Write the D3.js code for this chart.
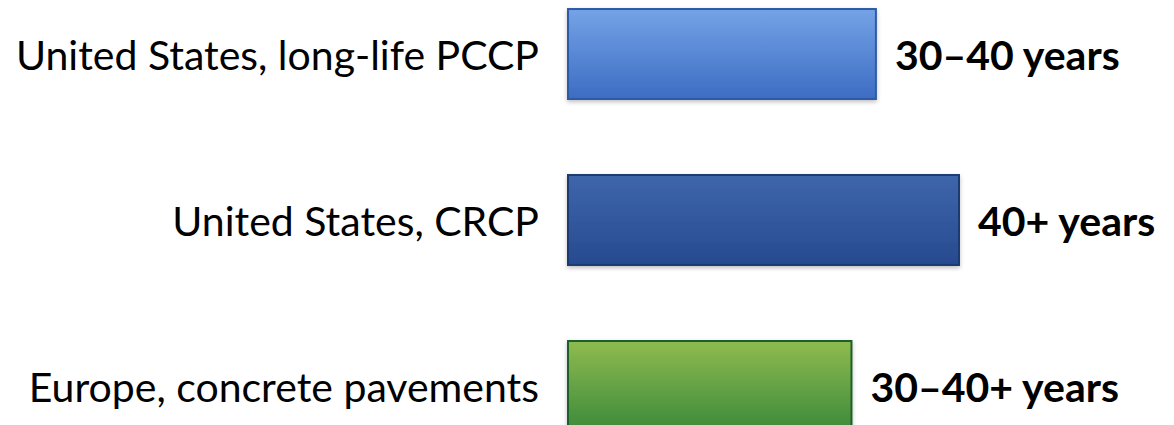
<!DOCTYPE html>
<html>
<head>
<meta charset="utf-8">
<script src="https://cdn.jsdelivr.net/npm/d3@7"></script>
<style>
  html, body { margin: 0; padding: 0; background: #fff; }
  svg { display: block; }
</style>
</head>
<body>
<div id="chart"></div>
<script>
// data
const categories = ["United States, long-life PCCP", "United States, CRCP", "Europe, concrete pavements"];
const lifeYears = [31.5, 40, 29];
const lifeLabels = ["30\u201340 years", "40+ years", "30\u201340+ years"];
const barColors = [
  { top: "#74a3e6", bottom: "#3d6cc3", stroke: "#2d5aa8" },
  { top: "#3e66ab", bottom: "#274a8f", stroke: "#1d3a73" },
  { top: "#8fbb4f", bottom: "#3c8a3b", stroke: "#1f5f2c" }
];

const width = 1174, height = 425;
const font = "Lato, 'Open Sans', sans-serif";

const svg = d3.select("#chart").append("svg")
  .attr("width", width)
  .attr("height", height);

const defs = svg.append("defs");
barColors.forEach((c, i) => {
  const g = defs.append("linearGradient")
    .attr("id", "grad" + i)
    .attr("x1", 0).attr("y1", 0).attr("x2", 0).attr("y2", 1);
  g.append("stop").attr("offset", "0%").attr("stop-color", c.top);
  g.append("stop").attr("offset", "100%").attr("stop-color", c.bottom);
});
defs.append("filter").attr("id", "shadow")
  .attr("x", "-5%").attr("y", "-10%").attr("width", "110%").attr("height", "130%")
  .append("feDropShadow")
  .attr("dx", 0).attr("dy", 2).attr("stdDeviation", 2)
  .attr("flood-color", "#000").attr("flood-opacity", 0.25);

const xScale = d3.scaleLinear()
  .domain([0, 40])
  .range([568, 959]);

const yScale = d3.scaleBand()
  .domain(categories)
  .range([-67, 507])
  .padding(0.458);

const rows = categories.map((c, i) => ({ cat: c, val: lifeYears[i], label: lifeLabels[i], idx: i }));

svg.selectAll("rect.bar")
  .data(rows)
  .join("rect")
  .attr("class", "bar")
  .attr("x", xScale(0))
  .attr("y", d => yScale(d.cat))
  .attr("width", d => xScale(d.val) - xScale(0))
  .attr("height", yScale.bandwidth())
  .attr("fill", d => `url(#grad${d.idx})`)
  .attr("stroke", d => barColors[d.idx].stroke)
  .attr("stroke-width", 2)
  .attr("filter", "url(#shadow)");

// category labels on the left
svg.selectAll("text.cat")
  .data(rows)
  .join("text")
  .attr("class", "cat")
  .attr("x", 539)
  .attr("y", d => yScale(d.cat) + yScale.bandwidth() / 2 + 16)
  .attr("text-anchor", "end")
  .attr("font-family", font)
  .attr("font-size", 41)
  .attr("fill", "#000")
  .text(d => d.cat);

// value labels on the right
svg.selectAll("text.val")
  .data(rows)
  .join("text")
  .attr("class", "val")
  .attr("x", d => xScale(d.val) + 19)
  .attr("y", d => yScale(d.cat) + yScale.bandwidth() / 2 + 16)
  .attr("font-family", font)
  .attr("font-weight", "bold")
  .attr("font-size", 41)
  .attr("fill", "#000")
  .text(d => d.label);
</script>
</body>
</html>
